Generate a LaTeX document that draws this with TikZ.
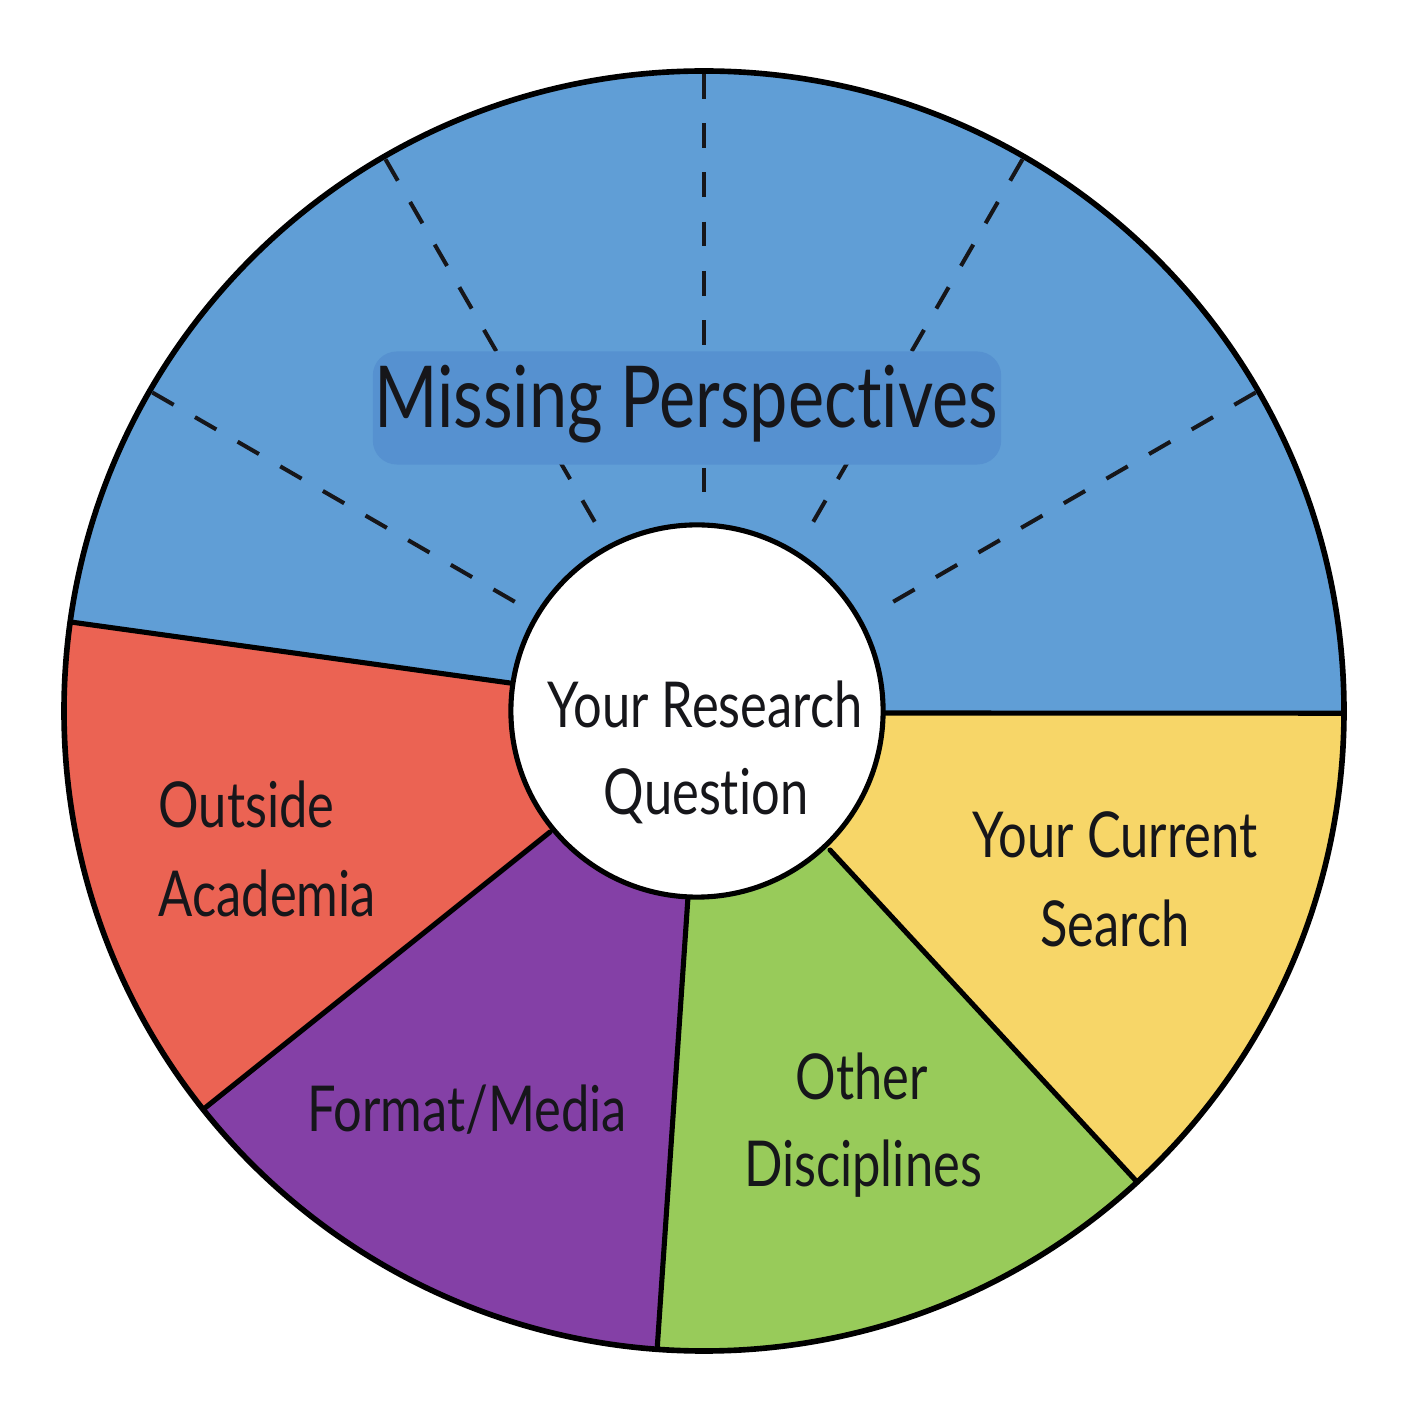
\documentclass[tikz,border=0pt]{standalone}
\usepackage{fontspec}
\setmainfont{Lato}[FakeStretch=0.8, Ligatures={NoCommon,NoRare}]
\definecolor{pblue}{RGB}{96,158,214}
\definecolor{boxblue}{RGB}{86,145,208}
\definecolor{pred}{RGB}{235,99,83}
\definecolor{ppurple}{RGB}{132,64,166}
\definecolor{pgreen}{RGB}{152,203,90}
\definecolor{pyellow}{RGB}{247,214,104}
\definecolor{ink}{RGB}{22,22,26}
\begin{document}
\begin{tikzpicture}[x=0.01cm,y=0.01cm,
  divider/.style={line width=1.45pt, line cap=round, draw=black},
  dashline/.style={line width=1.15pt, draw=ink, dash pattern=on 7pt off 7pt},
  lbl/.style={text=ink, inner sep=0pt, anchor=base, font=\fontsize{18}{20}\selectfont},
  biglbl/.style={text=ink, inner sep=0pt, anchor=base, font=\fontsize{24.3}{28}\selectfont}]
\useasboundingbox (0,0) rectangle (1411,1411);
\coordinate (O) at (704,700);
\coordinate (Ic) at (697,700);
% outer ends of dividers
\coordinate (BYo) at ([shift={(-0.2:640)}]O);
\coordinate (YGo) at ([shift={(-47.4:640)}]O);
\coordinate (GPo) at ([shift={(-94.2:640)}]O);
\coordinate (PRo) at ([shift={(-141.5:640)}]O);
\coordinate (RBo) at ([shift={(172:640)}]O);
% inner ends of dividers
\coordinate (BYi) at (883,698);
\coordinate (YGi) at (830,561);
\coordinate (GPi) at (688,514);
\coordinate (PRi) at (550,579);
\coordinate (RBi) at (510,728);
% base disc
\fill[pblue] (O) circle[radius=640];
% coloured sectors
\fill[pyellow] (BYi) -- (BYo) arc[start angle=-0.2, end angle=-47.4, radius=640] -- (YGi) -- (Ic) -- cycle;
\fill[pgreen] (YGi) -- (YGo) arc[start angle=-47.4, end angle=-94.2, radius=640] -- (GPi) -- (Ic) -- cycle;
\fill[ppurple] (GPi) -- (GPo) arc[start angle=-94.2, end angle=-141.5, radius=640] -- (PRi) -- (Ic) -- cycle;
\fill[pred] (PRi) -- (PRo) arc[start angle=-141.5, end angle=-188, radius=640] -- (RBi) -- (Ic) -- cycle;
% dividers
\draw[divider] (BYi) -- (BYo);
\draw[divider] (YGi) -- (YGo);
\draw[divider] (GPi) -- (GPo);
\draw[divider] (PRi) -- (PRo);
\draw[divider] (RBi) -- (RBo);
% dashed rays
\foreach \a in {30,60,90,120,150}{
  \coordinate (d\a o) at ([shift={(\a:637)}]O);
  \coordinate (d\a i) at ([shift={(\a:200)}]O);
  \draw[dashline] (d\a o) -- (d\a i);
}
% label box
\node[fill=boxblue, rounded corners=0.24cm, minimum width=6.28cm, minimum height=1.13cm, inner sep=0pt] (mpbox) at (687,1003) {};
\node[biglbl] (mp) at (686,983) {Missing Perspec\kern0pt tives};
% inner circle
\node[circle, draw=black, line width=1.45pt, fill=white, minimum size=3.72cm, inner sep=0pt] (rq) at (Ic) {};
% outer rim
\draw[line width=1.6pt] (O) circle[radius=640];
% labels
\node[lbl] (rq1) at (705,683) {Your Research};
\node[lbl] (rq2) at (706,596) {Ques\kern0pt tion};
\node[lbl, anchor=base west] (oa1) at (158,583) {Outside};
\node[lbl, anchor=base west] (oa2) at (158,494) {Academia};
\node[lbl] (ys1) at (1115,553) {Your Current};
\node[lbl] (ys2) at (1115,464) {Search};
\node[lbl] (fm) at (467,279) {Format/Media};
\node[lbl] (od1) at (862,311) {Other};
\node[lbl] (od2) at (863,224) {Disciplines};
\end{tikzpicture}
\end{document}
